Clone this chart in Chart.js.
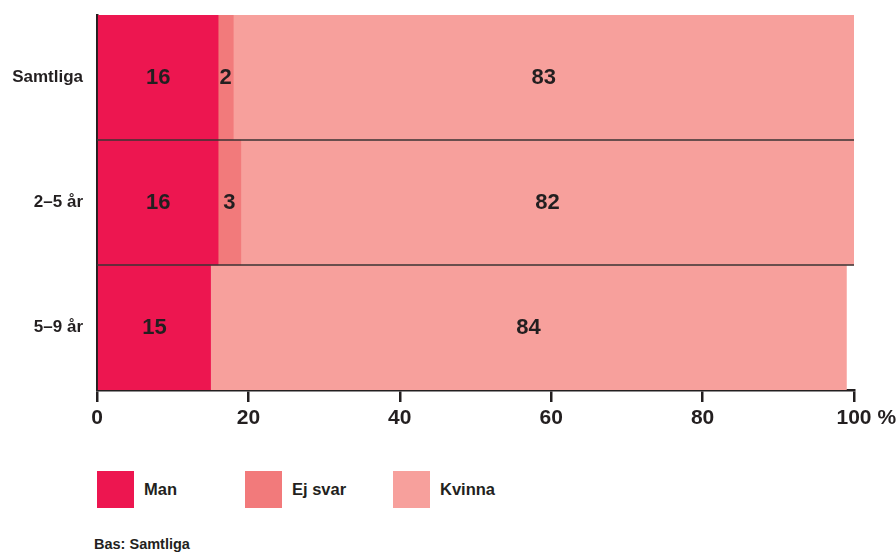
<!DOCTYPE html>
<html>
<head>
<meta charset="utf-8">
<script src="https://cdn.jsdelivr.net/npm/chart.js@4/dist/chart.umd.min.js"></script>
<style>
  body { margin: 0; background: #fff; font-family: "Liberation Sans", Arial, sans-serif; color: #231f20; }
  #wrap { position: relative; width: 896px; height: 552px; overflow: hidden; }
  #chartBox { position: absolute; left: 0; top: -8px; width: 896px; height: 448px; }
  .legend { position: absolute; top: 471px; left: 97px; display: flex; }
  .item { width: 148px; display: flex; align-items: center; font-weight: bold; font-size: 16.5px; }
  .sw { width: 37px; height: 37px; margin-right: 10px; }
  .note { position: absolute; left: 94px; top: 536px; font-weight: bold; font-size: 14.5px; }
</style>
</head>
<body>
<div id="wrap">
  <div id="chartBox"><canvas id="barChart"></canvas></div>
  <div class="legend" id="legend"></div>
  <div class="note">Bas: Samtliga</div>
</div>
<script>
const categories = ['Samtliga', '2–5 år', '5–9 år'];
const seriesNames = ['Man', 'Ej svar', 'Kvinna'];
const manValues = [16, 16, 15];
const ejSvarValues = [2, 3, 0];
const kvinnaValues = [83, 82, 84];
const xTicks = [0, 20, 40, 60, 80, 100];
const colors = ['#ED1650', '#F27A7B', '#F7A09C'];

const allSeries = [manValues, ejSvarValues, kvinnaValues];
const ink = '#231f20';

// legend in html
const legend = document.getElementById('legend');
seriesNames.forEach(function (name, i) {
  const it = document.createElement('div');
  it.className = 'item';
  it.innerHTML = '<span class="sw" style="background:' + colors[i] + '"></span>' + name;
  legend.appendChild(it);
});

const valueLabels = {
  id: 'valueLabels',
  afterDatasetsDraw(chart) {
    const c = chart.ctx;
    const area = chart.chartArea;
    const ys = chart.scales.y;
    c.save();
    // separator lines between the bars, on top of them
    c.strokeStyle = '#3a3333';
    c.lineWidth = 1.5;
    for (let i = 1; i < categories.length; i++) {
      const y = (ys.getPixelForValue(i - 1) + ys.getPixelForValue(i)) / 2;
      c.beginPath();
      c.moveTo(area.left, y);
      c.lineTo(area.right, y);
      c.stroke();
    }
    c.font = 'bold 22px "Liberation Sans", Arial, sans-serif';
    c.fillStyle = ink;
    c.textAlign = 'center';
    c.textBaseline = 'middle';
    chart.data.datasets.forEach(function (ds, di) {
      chart.getDatasetMeta(di).data.forEach(function (el, i) {
        const v = ds.data[i];
        if (!v) return;
        const left = Math.min(el.base, el.x);
        const right = Math.min(Math.max(el.base, el.x), area.right);
        c.fillText(String(v), (left + right) / 2, el.y);
      });
    });
    // the "%" after the last tick
    const xs = chart.scales.x;
    const px = xs.getPixelForValue(100);
    c.font = 'bold 21px "Liberation Sans", Arial, sans-serif';
    const w = c.measureText('100').width;
    c.textAlign = 'left';
    c.textBaseline = 'top';
    c.fillText('%', px + w / 2 + 6, xs.top + 18);
    c.restore();
  }
};

new Chart(document.getElementById('barChart').getContext('2d'), {
  type: 'bar',
  data: {
    labels: categories,
    datasets: seriesNames.map(function (name, i) {
      return {
        label: name,
        data: allSeries[i],
        backgroundColor: colors[i],
        barPercentage: 1,
        categoryPercentage: 1
      };
    })
  },
  options: {
    indexAxis: 'y',
    responsive: true,
    maintainAspectRatio: false,
    animation: false,
    layout: { padding: { top: 23, right: 42, left: 0, bottom: 0 } },
    plugins: { legend: { display: false }, tooltip: { enabled: false } },
    scales: {
      x: {
        stacked: true,
        min: 0,
        max: 100,
        afterBuildTicks: function (s) { s.ticks = xTicks.map(function (v) { return { value: v }; }); },
        afterFit: function (s) { s.height = 50; },
        border: { display: true, color: ink, width: 2.5 },
        grid: { drawOnChartArea: false, drawTicks: true, tickLength: 12, color: ink, lineWidth: 2.5 },
        ticks: {
          color: ink,
          padding: 4,
          font: { family: '"Liberation Sans", Arial, sans-serif', size: 21, weight: 'bold' }
        }
      },
      y: {
        stacked: true,
        afterFit: function (s) { s.width = 97; },
        border: { display: true, color: ink, width: 2.5 },
        grid: { display: false },
        ticks: {
          color: ink,
          padding: 6,
          font: { family: '"Liberation Sans", Arial, sans-serif', size: 17, weight: 'bold' }
        }
      }
    }
  },
  plugins: [valueLabels]
});
</script>
</body>
</html>
